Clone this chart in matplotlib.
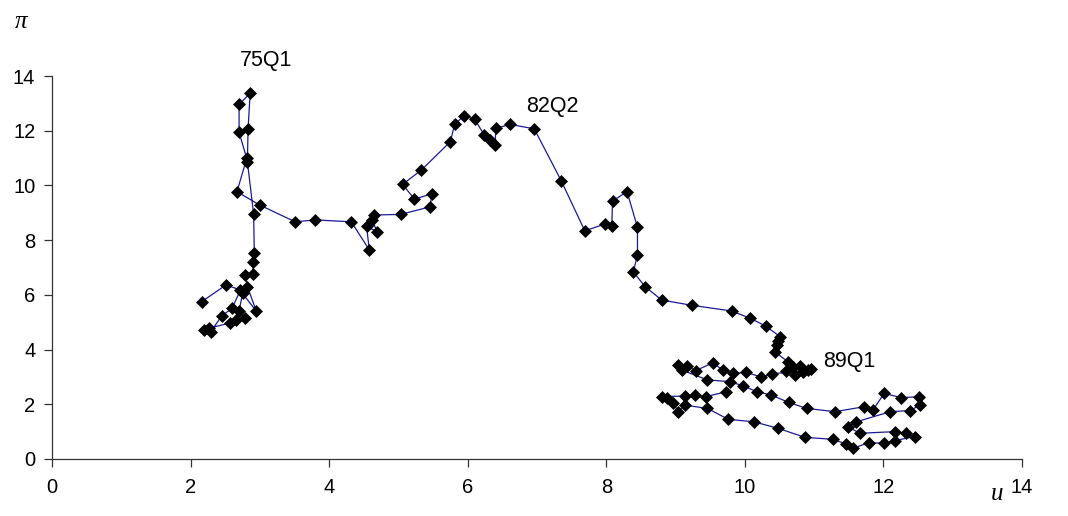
import matplotlib
matplotlib.use("Agg")
import matplotlib.pyplot as plt

# Unemployment (u) and inflation (pi), quarterly path
u = [2.16, 2.51, 2.72, 2.60, 2.45, 2.29, 2.19, 2.26, 2.57, 2.66,
     2.79, 2.70, 2.75, 2.95, 2.82, 2.79, 2.90, 2.90, 2.92, 2.91,
     2.82, 2.83, 2.86, 2.70, 2.70, 2.81, 2.67, 3.00, 3.51, 3.80,
     4.32, 4.58, 4.54, 4.69, 4.62, 4.65, 5.03, 5.46, 5.48, 5.23,
     5.06, 5.33, 5.75, 5.81, 5.95, 6.10, 6.24, 6.32, 6.39, 6.41,
     6.61, 6.96, 7.35, 7.69, 7.98, 8.08, 8.09, 8.30, 8.45, 8.45,
     8.39, 8.56, 8.80, 9.23, 9.81, 10.08, 10.30, 10.51, 10.48, 10.46,
     10.43, 10.62, 10.70, 10.60, 10.84, 10.72, 10.95, 10.80, 10.91,
     10.39, 10.24, 10.02, 9.83, 9.68, 9.54, 9.29, 9.16, 9.04, 9.09,
     9.46, 9.78, 9.98, 10.17, 10.38, 10.63, 10.89, 11.30, 11.72, 11.85,
     12.01, 12.26, 12.52, 12.53, 12.38, 12.10, 11.61, 11.49, 11.66, 12.16,
     12.33, 12.45, 12.16, 12.01, 11.79, 11.56, 11.46, 11.27, 10.87, 10.48,
     10.13, 9.76, 9.46, 9.13, 9.04, 8.97, 8.87, 8.80, 9.13, 9.28,
     9.44, 9.73]
pi = [5.75, 6.36, 6.18, 5.51, 5.23, 4.65, 4.71, 4.78, 4.97, 5.08,
      5.14, 5.40, 6.05, 5.40, 6.30, 6.72, 6.76, 7.19, 7.54, 8.95,
      10.87, 12.06, 13.37, 12.96, 11.94, 10.99, 9.77, 9.28, 8.67, 8.74,
      8.67, 7.64, 8.50, 8.31, 8.75, 8.92, 8.94, 9.22, 9.69, 9.50,
      10.04, 10.56, 11.60, 12.23, 12.55, 12.42, 11.84, 11.66, 11.48, 12.09,
      12.23, 12.07, 10.17, 8.34, 8.59, 8.52, 9.43, 9.77, 8.47, 7.45,
      6.84, 6.30, 5.81, 5.62, 5.41, 5.14, 4.86, 4.47, 4.30, 4.17,
      3.92, 3.56, 3.37, 3.20, 3.19, 3.07, 3.30, 3.40, 3.25,
      3.11, 2.99, 3.17, 3.13, 3.25, 3.52, 3.23, 3.40, 3.44, 3.25,
      2.89, 2.83, 2.67, 2.46, 2.34, 2.07, 1.85, 1.73, 1.91, 1.79,
      2.40, 2.24, 2.28, 1.97, 1.77, 1.73, 1.36, 1.18, 0.94, 1.00,
      0.94, 0.82, 0.67, 0.57, 0.60, 0.39, 0.55, 0.72, 0.79, 1.12,
      1.36, 1.45, 1.85, 1.97, 1.73, 2.03, 2.22, 2.28, 2.30, 2.34,
      2.28, 2.46]

labels = ["75Q1", "82Q2", "89Q1"]
label_pos = [(2.71, 14.58), (6.85, 12.87), (11.13, 3.58)]

x_ticks = [0, 2, 4, 6, 8, 10, 12, 14]
y_ticks = [0, 2, 4, 6, 8, 10, 12, 14]

plt.rcParams['font.family'] = ['Liberation Sans', 'DejaVu Sans']

fig = plt.figure(figsize=(10.68, 5.16), dpi=100)
ax = fig.add_axes([52 / 1068, 1 - 459 / 516, (1022 - 52) / 1068, (459 - 76) / 516])

ax.plot(u, pi, color='#1a1a9a', lw=0.9, zorder=2)
ax.plot(u, pi, ls='none', marker='D', ms=6.6, mfc='black', mec='black', mew=0.5, zorder=3)

for t, (x, y) in zip(labels, label_pos):
    ax.text(x, y, t, fontsize=15.5, ha='left', va='center', color='black')

ax.set_xlim(0, 14)
ax.set_ylim(0, 14)
ax.set_xticks(x_ticks)
ax.set_yticks(y_ticks)
ax.tick_params(axis='both', direction='out', length=6, width=0.9, color='#333333',
               labelsize=14.5)
ax.tick_params(axis='y', pad=6)
ax.tick_params(axis='x', pad=8)
for s in ['top', 'right']:
    ax.spines[s].set_visible(False)
for s in ['left', 'bottom']:
    ax.spines[s].set_linewidth(0.9)
    ax.spines[s].set_color('#333333')

fig.text(21 / 1068, 1 - 22 / 516, 'π', fontsize=18, family=['Liberation Serif', 'DejaVu Serif'],
         style='italic', ha='center', va='center')
fig.text(997 / 1068, 1 - 494 / 516, 'u', fontsize=18, family=['Liberation Serif', 'DejaVu Serif'],
         style='italic', ha='center', va='center')

fig.savefig('out.png', dpi=100)
